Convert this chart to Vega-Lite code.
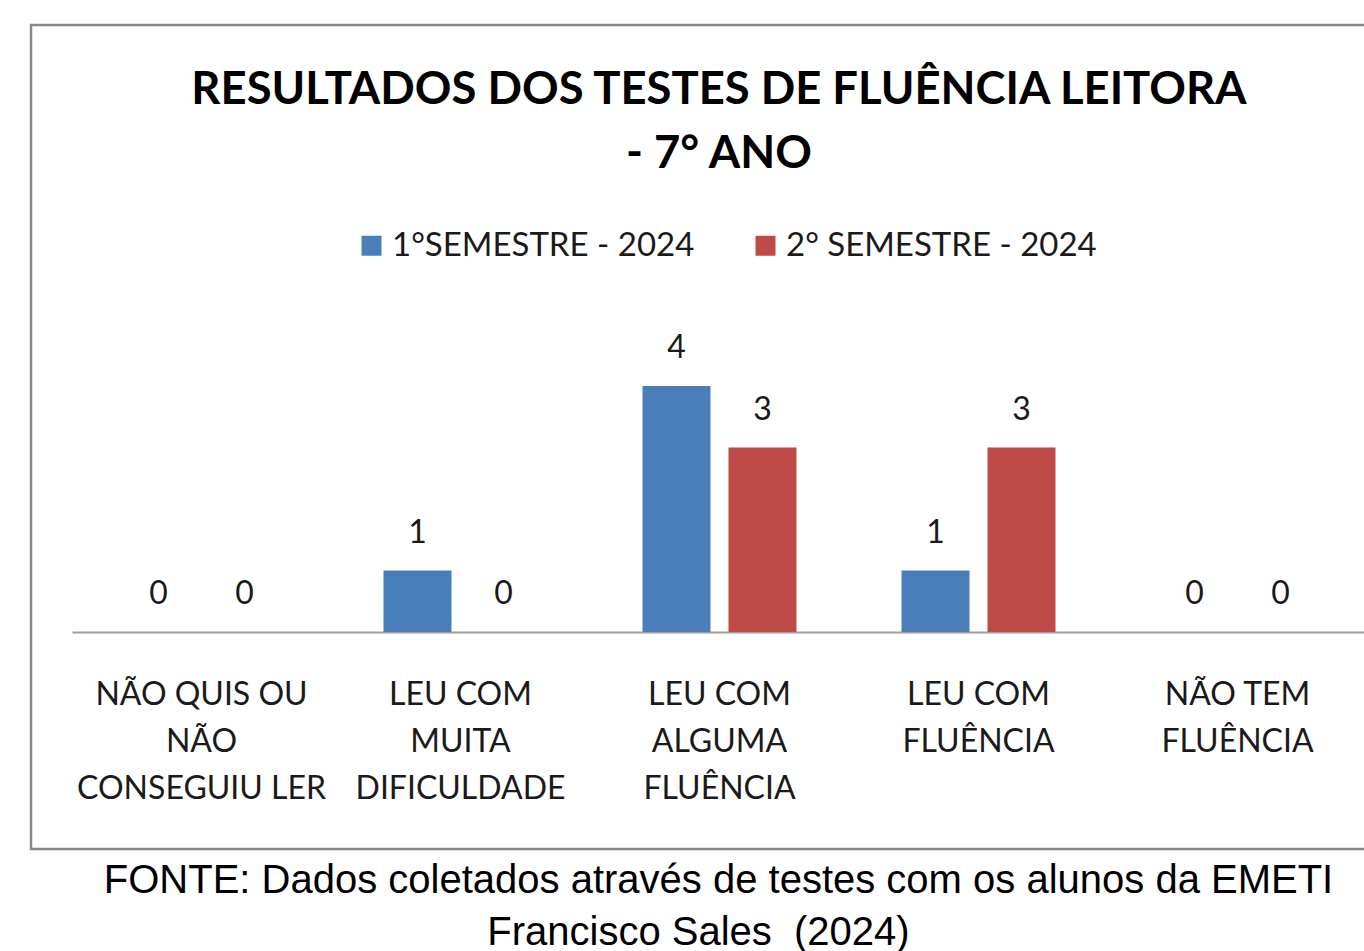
{
  "$schema": "https://vega.github.io/schema/vega-lite/v6.json",
  "width": 1376,
  "height": 824,
  "padding": {"left": 31, "top": 25, "right": 0, "bottom": 0},
  "background": "white",
  "config": {"view": {"stroke": "#878787", "strokeWidth": 2.5, "fill": "white"}},
  "title": {
    "text": ["RESULTADOS DOS TESTES DE FLUÊNCIA LEITORA", "- 7° ANO"],
    "font": "Lato",
    "fontSize": 45.4,
    "fontWeight": "bold",
    "color": "black",
    "lineHeight": 64,
    "anchor": "middle",
    "offset": -152
  },
  "data": {
    "values": [
      {"categoria": "NÃO QUIS OU|NÃO|CONSEGUIU LER", "serie": "1°SEMESTRE - 2024", "valor": 0},
      {"categoria": "NÃO QUIS OU|NÃO|CONSEGUIU LER", "serie": "2° SEMESTRE - 2024", "valor": 0},
      {"categoria": "LEU COM|MUITA|DIFICULDADE", "serie": "1°SEMESTRE - 2024", "valor": 1},
      {"categoria": "LEU COM|MUITA|DIFICULDADE", "serie": "2° SEMESTRE - 2024", "valor": 0},
      {"categoria": "LEU COM|ALGUMA|FLUÊNCIA", "serie": "1°SEMESTRE - 2024", "valor": 4},
      {"categoria": "LEU COM|ALGUMA|FLUÊNCIA", "serie": "2° SEMESTRE - 2024", "valor": 3},
      {"categoria": "LEU COM|FLUÊNCIA", "serie": "1°SEMESTRE - 2024", "valor": 1},
      {"categoria": "LEU COM|FLUÊNCIA", "serie": "2° SEMESTRE - 2024", "valor": 3},
      {"categoria": "NÃO TEM|FLUÊNCIA", "serie": "1°SEMESTRE - 2024", "valor": 0},
      {"categoria": "NÃO TEM|FLUÊNCIA", "serie": "2° SEMESTRE - 2024", "valor": 0}
    ]
  },
  "encoding": {
    "x": {
      "field": "categoria",
      "type": "nominal",
      "sort": null,
      "scale": {"range": [41, 1336], "paddingInner": 0, "paddingOuter": 0},
      "axis": {
        "orient": "bottom",
        "offset": -217,
        "domainColor": "#a0a0a0",
        "domainWidth": 2,
        "ticks": false,
        "labelExpr": "split(datum.label, '|')",
        "labelAngle": 0,
        "labelFont": "Lato",
        "labelFontSize": 32,
        "labelLineHeight": 47,
        "labelColor": "#1a1a1a",
        "labelPadding": 47,
        "labelLimit": 0,
        "title": ["FONTE: Dados coletados através de testes com os alunos da EMETI", "Francisco Sales \u00a0(2024)\u00a0\u2800"],
        "titleFont": "Liberation Sans",
        "titleFontSize": 40,
        "titleFontWeight": "normal",
        "titleColor": "black",
        "titleLineHeight": 52,
        "titleX": 687,
        "titleY": 228,
        "titleBaseline": "top",
        "titleAlign": "center"
      }
    },
    "xOffset": {
      "field": "serie",
      "type": "nominal",
      "scale": {"paddingInner": 0.2093, "paddingOuter": 0.6105}
    },
    "y": {
      "field": "valor",
      "type": "quantitative",
      "scale": {"domain": [0, 5], "range": [607, 299.5]},
      "axis": null
    }
  },
  "layer": [
    {
      "mark": {"type": "bar"},
      "encoding": {
        "color": {
          "field": "serie",
          "type": "nominal",
          "scale": {"range": ["#4A7EBB", "#BE4B48"]},
          "legend": {
            "orient": "none",
            "legendX": 324,
            "legendY": 204,
            "direction": "horizontal",
            "title": null,
            "symbolType": "square",
            "symbolSize": 400,
            "symbolStrokeWidth": 0,
            "labelFont": "Lato",
            "labelFontSize": 33,
            "labelColor": "#1a1a1a",
            "labelOffset": 4,
            "labelLimit": 0,
            "columnPadding": 54,
            "padding": 0
          }
        }
      }
    },
    {
      "mark": {"type": "text", "font": "Lato", "fontSize": 32, "color": "#1a1a1a", "baseline": "middle", "dy": -38},
      "encoding": {"text": {"field": "valor", "type": "quantitative"}}
    }
  ]
}
